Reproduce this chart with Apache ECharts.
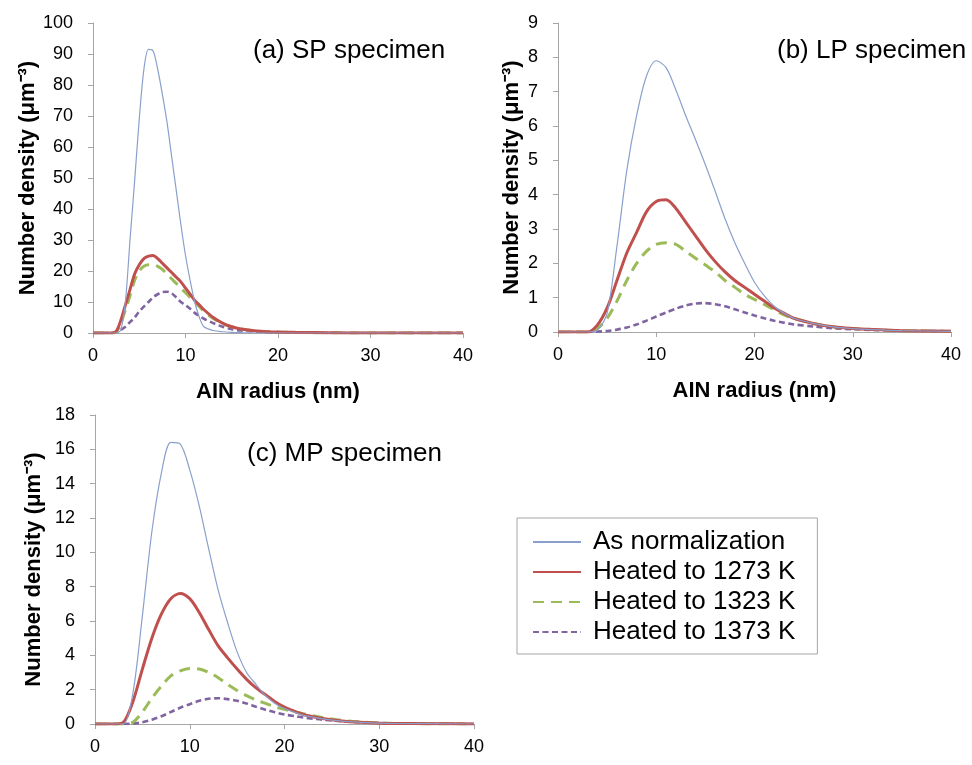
<!DOCTYPE html>
<html>
<head>
<meta charset="utf-8">
<script src="https://cdn.jsdelivr.net/npm/echarts@6/dist/echarts.min.js"></script>
<style>
html,body{margin:0;padding:0;background:#fff;}
#chart{width:972px;height:765px;}
</style>
</head>
<body>
<div id="chart"></div>
<script>
// ---------- data ----------
const seriesNames = ['As normalization', 'Heated to 1273 K', 'Heated to 1323 K', 'Heated to 1373 K'];
const panelTitles = ['(a) SP specimen', '(b) LP specimen', '(c) MP specimen'];
const xAxisName = 'AIN radius (nm)';
const yAxisName = 'Number density (μm⁻³)';

// Panel (a) SP specimen
const radiusA = [0,1,2,2.5,3,3.5,4,4.5,5,5.5,6,6.5,7,7.5,8,8.5,9,9.5,10,10.5,11,11.5,12,13,14,15,16,18,20,22,25,30,35,40];
const normA   = [0,0,0,0,1,10,30,49,69,85,91.5,91,85,77,68,57,46,35,25,17,10,5,2,0.8,0.4,0.2,0.1,0,0,0,0,0,0,0];
const h1273A  = [0,0,0,0.5,4,9,14,19,22,24,24.8,25,24,22.5,21,19.5,18,16.5,14.5,12.5,10.5,9,7.5,5,3.2,2,1.3,0.6,0.3,0.2,0.1,0,0,0];
const h1323A  = [0,0,0,0.3,3,7.5,12,17,20,21.5,22,22,21.5,20.5,19,17.5,16,14.5,13,11.5,10,8.5,7,4.7,3,2,1.3,0.6,0.3,0.2,0.1,0,0,0];
const h1373A  = [0,0,0,0.3,1,2,3.5,5,7,8.5,10,11.5,12.5,13.2,13.3,12.8,11.5,10,9,7.8,6.5,5.5,4.6,3.2,2,1.2,0.8,0.4,0.2,0.1,0,0,0,0];

// Panels (b) and (c) share an x grid
const radiusBC = [0,1,2,3,4,5,6,7,8,9,10,11,12,13,14,15,16,17,18,19,20,21,22,23,24,26,28,30,32,35,40];
// Panel (b) LP specimen
const normB  = [0,0,0,0,0.05,0.55,2.5,4.7,6.3,7.45,7.9,7.7,7.05,6.3,5.6,4.87,4.1,3.3,2.6,2.0,1.45,1.05,0.75,0.55,0.4,0.25,0.15,0.1,0.07,0.04,0.02];
const h1273B = [0,0,0,0,0.2,0.7,1.5,2.3,2.9,3.5,3.8,3.85,3.6,3.2,2.8,2.4,2.05,1.75,1.5,1.3,1.1,0.9,0.7,0.55,0.4,0.25,0.15,0.1,0.07,0.04,0.02];
const h1323B = [0,0,0,0,0.1,0.4,0.9,1.5,2.0,2.35,2.55,2.6,2.55,2.35,2.15,1.95,1.75,1.5,1.3,1.1,0.95,0.8,0.65,0.5,0.4,0.25,0.15,0.1,0.07,0.04,0.02];
const h1373B = [0,0,0,0,0.01,0.03,0.07,0.13,0.22,0.33,0.45,0.57,0.68,0.77,0.83,0.84,0.81,0.75,0.66,0.57,0.48,0.4,0.33,0.27,0.22,0.16,0.11,0.08,0.06,0.04,0.02];
// Panel (c) MP specimen
const normC  = [0,0,0,0,1.8,6.3,11.2,14.6,16.4,16.3,14.8,12.7,10.2,7.8,5.9,4.2,3.0,2.3,1.65,1.2,0.9,0.7,0.5,0.4,0.3,0.17,0.1,0.05,0.03,0.02,0];
const h1273C = [0,0,0,0.1,1.3,3.2,5,6.4,7.3,7.6,7.3,6.5,5.5,4.55,3.85,3.2,2.6,2.1,1.7,1.3,0.98,0.75,0.55,0.42,0.32,0.18,0.1,0.05,0.03,0.02,0];
const h1323C = [0,0,0,0,0.1,0.7,1.5,2.2,2.8,3.1,3.24,3.2,3.0,2.7,2.3,1.95,1.65,1.4,1.2,1.0,0.85,0.72,0.6,0.48,0.38,0.22,0.12,0.06,0.03,0.02,0];
const h1373C = [0,0,0,0,0.02,0.1,0.25,0.45,0.7,0.95,1.15,1.35,1.47,1.5,1.45,1.35,1.2,1.0,0.83,0.68,0.55,0.46,0.38,0.31,0.25,0.16,0.1,0.06,0.03,0.02,0];

const yMax = [100, 9, 18];
const yStep = [10, 1, 2];
const xMax = 40, xStep = 10;

// ---------- styling ----------
const FONT = '"Liberation Sans", Arial, sans-serif';
const styles = [
  {color: '#8aa0cc', width: 1.2, type: 'solid'},
  {color: '#c0504d', width: 3, type: 'solid'},
  {color: '#9bbb59', width: 3, type: [11, 7]},
  {color: '#8064a2', width: 2.6, type: [6, 3.5]}
];

const panels = [
  {x: radiusA, ys: [normA, h1273A, h1323A, h1373A], grid: {left: 93, top: 23, width: 370, height: 310}, xName: xAxisName, yGap: 54},
  {x: radiusBC, ys: [normB, h1273B, h1323B, h1373B], grid: {left: 558, top: 23, width: 393, height: 309}, xName: xAxisName, yGap: 35},
  {x: radiusBC, ys: [normC, h1273C, h1323C, h1373C], grid: {left: 95, top: 415, width: 379, height: 309}, xName: '', yGap: 50}
];
const titlePos = [{left: 253, top: 38}, {left: 777, top: 38}, {left: 247, top: 441}];

const grids = [], xAxes = [], yAxes = [], series = [], graphics = [];
panels.forEach((p, i) => {
  grids.push(Object.assign({containLabel: false}, p.grid));
  xAxes.push({
    type: 'value', gridIndex: i, min: 0, max: xMax, interval: xStep,
    name: p.xName, nameLocation: 'middle', nameGap: 48,
    nameTextStyle: {fontFamily: FONT, fontSize: 22, fontWeight: 'bold', color: '#000'},
    axisLine: {lineStyle: {color: '#a6a6a6', width: 1}},
    axisTick: {show: true, length: 5, lineStyle: {color: '#a6a6a6'}},
    axisLabel: {fontFamily: FONT, fontSize: 18, color: '#000', margin: 14},
    splitLine: {show: false}
  });
  yAxes.push({
    type: 'value', gridIndex: i, min: 0, max: yMax[i], interval: yStep[i],
    name: yAxisName, nameLocation: 'middle', nameGap: p.yGap, nameRotate: 90,
    nameTextStyle: {fontFamily: FONT, fontSize: 22, fontWeight: 'bold', color: '#000'},
    axisLine: {show: true, lineStyle: {color: '#a6a6a6', width: 1}},
    axisTick: {show: true, length: 5, lineStyle: {color: '#a6a6a6'}},
    axisLabel: {fontFamily: FONT, fontSize: 18, color: '#000', margin: 20},
    splitLine: {show: false}
  });
  p.ys.forEach((ys, k) => {
    series.push({
      type: 'line', name: seriesNames[k], xAxisIndex: i, yAxisIndex: i,
      data: p.x.map((xv, j) => [xv, ys[j]]),
      showSymbol: false, symbol: 'none', smooth: 0.3,
      lineStyle: {color: styles[k].color, width: styles[k].width, type: styles[k].type},
      itemStyle: {color: styles[k].color},
      z: 10 - k
    });
  });
  graphics.push({
    type: 'text', left: titlePos[i].left, top: titlePos[i].top,
    style: {text: panelTitles[i], font: '26px ' + FONT, fill: '#000'}
  });
});

const chart = echarts.init(document.getElementById('chart'), null, {renderer: 'canvas'});
chart.setOption({
  backgroundColor: '#fff',
  animation: false,
  grid: grids,
  xAxis: xAxes,
  yAxis: yAxes,
  series: series,
  graphic: graphics,
  legend: {
    data: seriesNames,
    orient: 'vertical', left: 517, top: 518,
    itemWidth: 48, itemHeight: 14, itemGap: 4,
    padding: [11, 22, 9, 15],
    borderColor: '#a6a6a6', borderWidth: 1,
    itemStyle: {opacity: 0},
    textStyle: {fontFamily: FONT, fontSize: 26, color: '#000', padding: [0, 0, 0, 7]},
    selectedMode: false
  }
});
</script>
</body>
</html>
